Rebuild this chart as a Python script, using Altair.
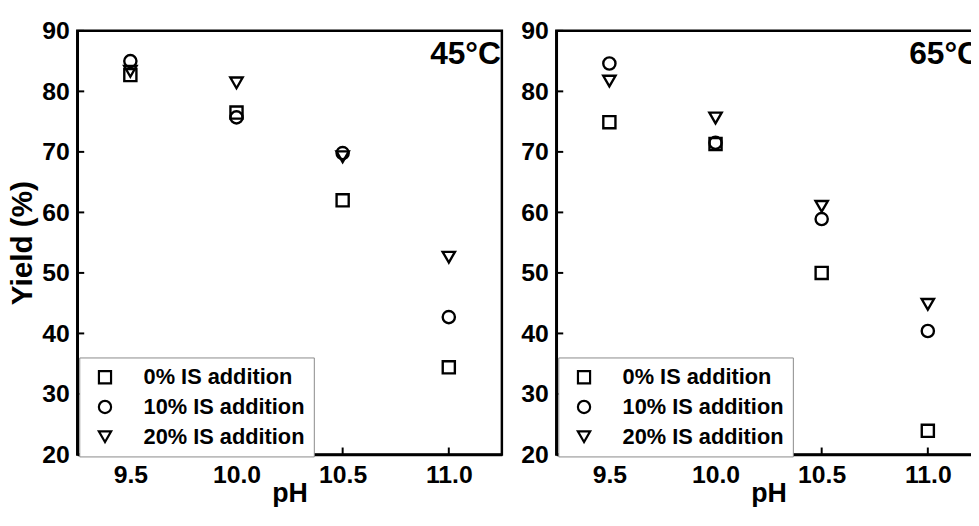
import altair as alt
import pandas as pd

FONT = "Liberation Sans"

ph = [9.5, 10.0, 10.5, 11.0]
series = ["0% IS addition", "10% IS addition", "20% IS addition"]
shapes = ["square", "circle", "triangle-down"]

# 45 °C
y45_0 = [82.7, 76.5, 62.0, 34.4]
y45_10 = [85.0, 75.7, 69.8, 42.7]
y45_20 = [83.3, 81.4, 69.2, 52.6]
# 65 °C
y65_0 = [74.9, 71.3, 50.0, 23.9]
y65_10 = [84.6, 71.5, 58.9, 40.4]
y65_20 = [81.7, 75.6, 61.0, 44.8]

xticks = [9.5, 10.0, 10.5, 11.0]
yticks = [20, 30, 40, 50, 60, 70, 80, 90]

W, H = 429, 428


def panel(vals, label, ytitle):
    rows = []
    for s, ys in zip(series, vals):
        for x, y in zip(ph, ys):
            rows.append({"pH": x, "Yield": y, "series": s})
    df = pd.DataFrame(rows)
    xs = alt.Scale(domain=[9.25, 11.25], nice=False, zero=False)
    ysc = alt.Scale(domain=[20, 90], nice=False, zero=False)
    leg = alt.Legend(
        orient="none", legendX=2, legendY=330, title=None,
        fillColor="white", strokeColor="#8a8a8a",
        padding=9, labelFontSize=22, labelFont=FONT, labelFontWeight="bold",
        labelColor="black", labelOffset=28, rowPadding=8,
        symbolStrokeWidth=2.2, symbolStrokeColor="black",
        symbolFillColor="white", symbolOffset=6, labelLimit=400,
    )
    xaxis = alt.Axis(values=xticks, format=".1f", title="pH",
                     labelPadding=8, titlePadding=-6, titleFontSize=27)
    if ytitle:
        yaxis = alt.Axis(values=yticks, format="d", labelPadding=8,
                         titlePadding=4, title=ytitle)
    else:
        yaxis = alt.Axis(values=yticks, format="d", labelPadding=8,
                         title=None)
    points = alt.Chart(df).mark_point(
        filled=False, strokeWidth=2.4, color="black", opacity=1
    ).encode(
        x=alt.X("pH:Q", scale=xs, axis=xaxis),
        y=alt.Y("Yield:Q", scale=ysc, axis=yaxis),
        shape=alt.Shape("series:N",
                        scale=alt.Scale(domain=series, range=shapes),
                        legend=leg),
        size=alt.Size("series:N",
                      scale=alt.Scale(domain=series, range=[150, 155, 290]),
                      legend=leg),
    )
    ytk = alt.Chart(pd.DataFrame({"t": yticks})).mark_rule(
        color="black", strokeWidth=2
    ).encode(y=alt.Y("t:Q", scale=ysc, axis=yaxis),
             x=alt.value(0), x2=alt.value(7))
    xtk = alt.Chart(pd.DataFrame({"t": xticks})).mark_rule(
        color="black", strokeWidth=2
    ).encode(x=alt.X("t:Q", scale=xs, axis=xaxis),
             y=alt.value(H), y2=alt.value(H - 7))
    txt = alt.Chart(pd.DataFrame({"label": [label]})).mark_text(
        align="right", baseline="alphabetic", fontSize=32,
        fontWeight="bold", font=FONT, color="black"
    ).encode(x=alt.value(W - 1), y=alt.value(33), text="label:N")
    return alt.layer(points, ytk, xtk, txt).properties(width=W, height=H)


left = panel([y45_0, y45_10, y45_20], "45°C", "Yield (%)")
right = panel([y65_0, y65_10, y65_20], "65°C", None)

chart = alt.hconcat(left, right, spacing=15).resolve_legend(
    shape="independent", size="independent"
).resolve_scale(
    shape="independent", size="independent"
).properties(
    padding={"left": -2, "top": 6.5, "right": -12, "bottom": -5}
).configure_view(
    stroke="black", strokeWidth=2.5
).configure_axis(
    domain=True, domainColor="black", domainWidth=2.5, ticks=False,
    grid=False, labelFont=FONT, labelFontWeight="bold", labelFontSize=25,
    labelColor="black", titleFont=FONT, titleFontWeight="bold",
    titleFontSize=30, titleColor="black"
)

chart.save("out.html", embed_options={"renderer": "svg", "actions": False})
